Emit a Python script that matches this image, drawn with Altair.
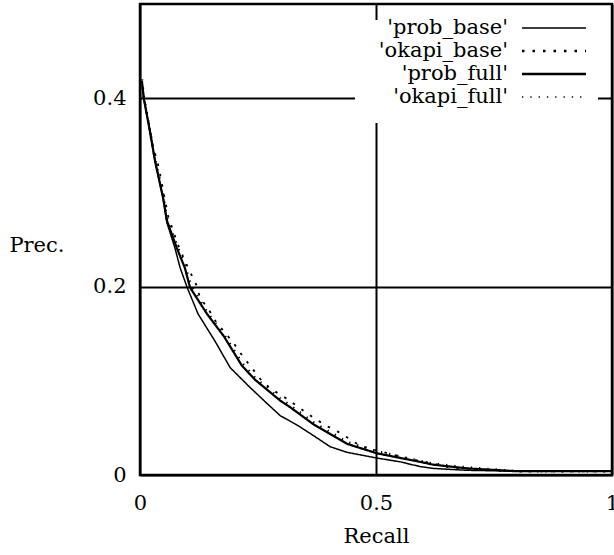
import altair as alt
import pandas as pd

names = ["'prob_base'", "'okapi_base'", "'prob_full'", "'okapi_full'"]

recall_prob_base = [0.004, 0.008, 0.021, 0.032, 0.049, 0.057, 0.074, 0.085, 0.100, 0.123,
                    0.159, 0.191, 0.233, 0.269, 0.297, 0.333, 0.367, 0.403, 0.439, 0.502,
                    0.551, 0.593, 0.621, 0.693, 0.799, 1.0]
prec_prob_base = [0.418, 0.400, 0.365, 0.333, 0.294, 0.268, 0.241, 0.220, 0.199, 0.171,
                  0.142, 0.114, 0.093, 0.076, 0.063, 0.053, 0.042, 0.030, 0.024, 0.018,
                  0.014, 0.009, 0.007, 0.005, 0.004, 0.004]

recall_okapi_base = [0.004, 0.008, 0.021, 0.025, 0.040, 0.049, 0.060, 0.080, 0.098, 0.121,
                     0.127, 0.144, 0.159, 0.180, 0.197, 0.212, 0.227, 0.244, 0.261, 0.282,
                     0.311, 0.333, 0.350, 0.373, 0.396, 0.419, 0.445, 0.466, 0.502, 0.572,
                     0.614, 0.657, 0.714, 0.799, 1.0]
prec_okapi_base = [0.418, 0.400, 0.368, 0.354, 0.326, 0.302, 0.274, 0.245, 0.224, 0.200,
                   0.188, 0.177, 0.164, 0.151, 0.141, 0.130, 0.120, 0.109, 0.098, 0.090,
                   0.081, 0.073, 0.067, 0.059, 0.052, 0.046, 0.038, 0.031, 0.026, 0.017,
                   0.013, 0.008, 0.006, 0.004, 0.004]

recall_prob_full = [0.004, 0.008, 0.021, 0.032, 0.049, 0.057, 0.078, 0.095, 0.106, 0.142,
                    0.178, 0.216, 0.244, 0.297, 0.318, 0.367, 0.439, 0.502, 0.593, 0.621,
                    0.693, 0.799, 1.0]
prec_prob_full = [0.418, 0.400, 0.365, 0.333, 0.294, 0.270, 0.241, 0.220, 0.199, 0.171,
                  0.147, 0.116, 0.101, 0.079, 0.072, 0.054, 0.033, 0.023, 0.014, 0.011,
                  0.007, 0.004, 0.004]

recall_okapi_full = [0.004, 0.008, 0.021, 0.032, 0.049, 0.057, 0.078, 0.095, 0.108, 0.142,
                     0.178, 0.216, 0.244, 0.297, 0.318, 0.367, 0.439, 0.502, 0.593, 0.621,
                     0.693, 0.799, 1.0]
prec_okapi_full = [0.420, 0.402, 0.366, 0.335, 0.297, 0.273, 0.244, 0.223, 0.201, 0.173,
                   0.149, 0.119, 0.103, 0.081, 0.074, 0.056, 0.035, 0.025, 0.015, 0.012,
                   0.008, 0.004, 0.004]

x_ticks = [0, 0.5, 1]
y_ticks = [0, 0.2, 0.4]

series = [
    (names[0], recall_prob_base, prec_prob_base),
    (names[1], recall_okapi_base, prec_okapi_base),
    (names[2], recall_prob_full, prec_prob_full),
    (names[3], recall_okapi_full, prec_okapi_full),
]
rows = []
for name, rs, ps in series:
    for r, p in zip(rs, ps):
        rows.append({"series": name, "recall": r, "prec": p})
df = pd.DataFrame(rows)

dashes = [[1, 0], [2.5, 8], [1, 0], [1.3, 7]]
widths = [1.5, 2.6, 2.6, 1.4]

FONT = "DejaVu Serif"
FS = 21

curves = alt.Chart(df).mark_line(color="black", strokeCap="butt", clip=True).encode(
    x=alt.X("recall:Q", scale=alt.Scale(domain=[0, 1], nice=False),
            axis=alt.Axis(values=x_ticks, format="~g", title="Recall",
                          grid=True, gridColor="black", gridWidth=2, gridOpacity=1,
                          ticks=False, domain=False, labelPadding=17,
                          labelFlush=False, labelBound=False, labelOverlap=False,
                          titleY=61, titleBaseline="middle")),
    y=alt.Y("prec:Q", scale=alt.Scale(domain=[0, 0.5], nice=False),
            axis=alt.Axis(values=y_ticks, format="~g", title="Prec.",
                          grid=True, gridColor="black", gridWidth=2, gridOpacity=1,
                          ticks=False, domain=False, labelPadding=14,
                          labelFlush=False, labelOverlap=False,
                          titleAngle=0, titleAlign="right", titleBaseline="middle",
                          titleX=-76, titleY=241)),
    strokeDash=alt.StrokeDash("series:N", scale=alt.Scale(domain=names, range=dashes), legend=None),
    strokeWidth=alt.StrokeWidth("series:N", scale=alt.Scale(domain=names, range=widths), legend=None),
)

one = pd.DataFrame({"k": [0]})
key_box = alt.Chart(one).mark_rect(fill="white").encode(
    x=alt.value(215), x2=alt.value(458), y=alt.value(16), y2=alt.value(119)
)

row_y = [24, 47, 70, 93]
layers = [curves, key_box]
for i, n in enumerate(names):
    d = pd.DataFrame({"name": [n]})
    layers.append(
        alt.Chart(d).mark_text(align="right", baseline="middle", font=FONT,
                               fontSize=FS, color="black").encode(
            x=alt.value(368), y=alt.value(row_y[i]), text="name:N")
    )
    layers.append(
        alt.Chart(d).mark_rule(color="black", strokeCap="butt").encode(
            x=alt.value(382), x2=alt.value(446), y=alt.value(row_y[i]),
            strokeDash=alt.value(dashes[i]), strokeWidth=alt.value(widths[i]))
    )

chart = alt.layer(*layers).properties(
    width=472, height=471,
    autosize=alt.AutoSizeParams(type="none"),
    padding={"left": 140, "top": 4, "right": 2, "bottom": 80},
).configure_view(stroke="black", strokeWidth=2.5).configure_axis(
    labelFont=FONT, labelFontSize=FS, labelColor="black",
    titleFont=FONT, titleFontSize=FS, titleColor="black", titleFontWeight="normal",
)

chart.save("out.html", embed_options={"renderer": "svg", "actions": False})
